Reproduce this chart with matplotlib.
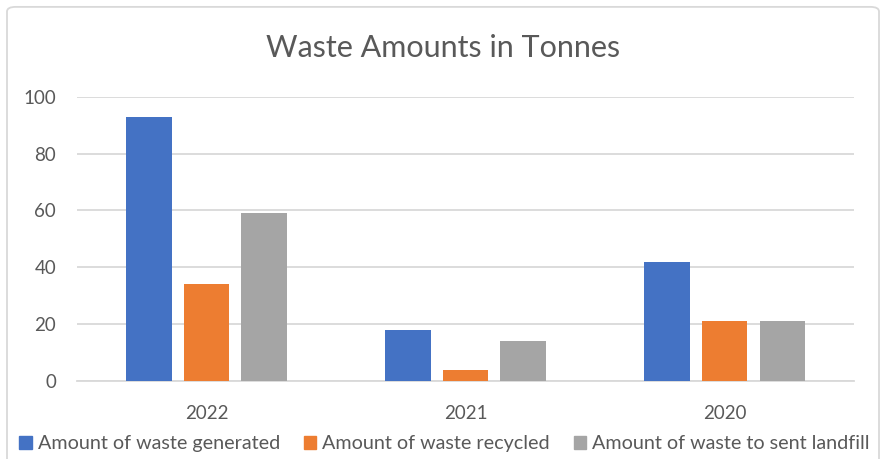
import matplotlib.pyplot as plt
import matplotlib.patches as mpatches
import numpy as np

plt.rcParams['font.family'] = ['Lato', 'DejaVu Sans']

# Data
years = ["2022", "2021", "2020"]
series = [
    "Amount of waste generated",
    "Amount of waste recycled",
    "Amount of waste to sent landfill",
]
generated = [93, 18, 42]
recycled = [34, 4, 21]
landfill = [59, 14, 21]
values = [generated, recycled, landfill]

colors = ["#4472C4", "#ED7D31", "#A5A5A5"]
text_color = "#595959"

fig = plt.figure(figsize=(8.8, 4.59), dpi=100)
ax = fig.add_axes([0.0875, 0.170, 0.883, 0.619])

x = np.arange(len(years))
width = 0.174
step = 0.222
for i, (name, vals) in enumerate(zip(series, values)):
    ax.bar(x + (i - 1) * step, vals, width, color=colors[i], label=name, zorder=3)

ax.set_xlim(-0.5, 2.5)
ax.set_ylim(0, 100)
ax.set_yticks(range(0, 101, 20))
ax.set_xticks(x)
ax.set_xticklabels(years)
ax.grid(axis='y', color="#D9D9D9", linewidth=1.3, zorder=0)
for side in ["top", "right", "left"]:
    ax.spines[side].set_visible(False)
ax.spines["bottom"].set_color("#D9D9D9")
ax.spines["bottom"].set_linewidth(1.3)
ax.tick_params(length=0, labelsize=13.5, labelcolor=text_color)
ax.tick_params(axis='y', pad=15)
ax.tick_params(axis='x', pad=17)

fig.text(0.503, 0.895, "Waste Amounts in Tonnes", ha='center', va='center',
         fontsize=22, color=text_color)

handles = [mpatches.Patch(color=c) for c in colors]
fig.legend(handles, series, loc='center', bbox_to_anchor=(0.505, 0.033), ncol=3,
           frameon=False, fontsize=14.2, labelcolor=text_color,
           handlelength=0.65, handleheight=0.65, handletextpad=0.3, columnspacing=1.2)

# outer chart border
fig.patches.append(mpatches.FancyBboxPatch(
    (7 / 880, -0.05), 872 / 880, 1.035, boxstyle="round,pad=0,rounding_size=0.01",
    transform=fig.transFigure, fill=False, edgecolor="#D9D9D9", linewidth=1.3))

fig.savefig("out.png", dpi=100)
